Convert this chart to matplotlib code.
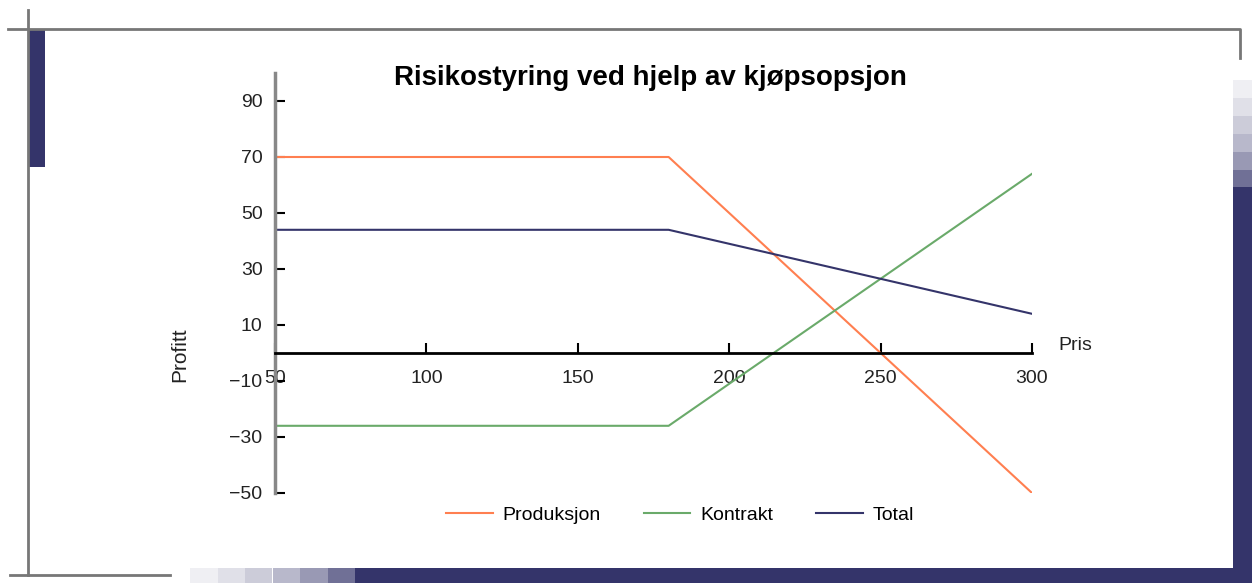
import matplotlib
matplotlib.use("Agg")
import matplotlib.pyplot as plt
from matplotlib.patches import Rectangle
from matplotlib.lines import Line2D

# price points where the payoff changes slope
pris = [50, 180, 300]
produksjon = [70, 70, -50]
kontrakt = [-26, -26, 64]
total = [44, 44, 14]

y_ticks = [-50, -30, -10, 10, 30, 50, 70, 90]
x_ticks = [50, 100, 150, 200, 250, 300]

W, H = 1252, 583
NAVY = "#34346a"
ORANGE = "#ff7f50"
GREEN = "#6aaa6a"
TXT = "#222222"

plt.rcParams["font.family"] = ["Liberation Sans", "DejaVu Sans"]

fig = plt.figure(figsize=(W / 100, H / 100), dpi=100)


def px(x, y):
    # pixel position (from top-left) to figure fraction
    return x / W, 1 - y / H


def rect(x0, y0, x1, y1, color, alpha=1.0):
    fx, fy = px(x0, y1)
    fig.patches.append(Rectangle((fx, fy), (x1 - x0) / W, (y1 - y0) / H,
                                 transform=fig.transFigure, color=color,
                                 alpha=alpha, lw=0, zorder=0))


def line(xs, ys, color="#777777", lw=2):
    fx = [x / W for x in xs]
    fy = [1 - y / H for y in ys]
    fig.lines.append(Line2D(fx, fy, transform=fig.transFigure, color=color, lw=lw))


# page frame and shadow bars
rect(1233, 187, W, H, NAVY)
rect(355, 568, W, H, NAVY)
rect(28, 30, 45, 167, NAVY)
for i, a in enumerate([0.08, 0.15, 0.25, 0.35, 0.5, 0.7]):
    rect(1233, 80 + i * 18, W, 98 + i * 18, NAVY, alpha=a)
    rect(190 + i * 27.5, 568, 217.5 + i * 27.5, H, NAVY, alpha=a)
line([8, 1240, 1240], [29, 29, 58])
line([28, 28], [10, 575])
line([10, 170], [575, 575])

x0, y0 = px(275, 493)
x1, y1 = px(1032, 73)
ax = fig.add_axes([x0, y0, x1 - x0, y1 - y0])

ax.plot(pris, produksjon, color=ORANGE, lw=1.5, label="Produksjon")
ax.plot(pris, kontrakt, color=GREEN, lw=1.5, label="Kontrakt")
ax.plot(pris, total, color=NAVY, lw=1.5, label="Total")

ax.set_xlim(50, 300)
ax.set_ylim(-50, 100)
ax.set_xticks(x_ticks)
ax.set_yticks(y_ticks)

for s in ("top", "right"):
    ax.spines[s].set_visible(False)
ax.spines["left"].set_color("#888888")
ax.spines["left"].set_linewidth(2.5)
ax.spines["bottom"].set_position(("data", 0))
ax.spines["bottom"].set_color("black")
ax.spines["bottom"].set_linewidth(2)

ax.tick_params(axis="y", direction="in", length=7, width=1.5, colors="black",
               labelcolor=TXT, labelsize=14, pad=9)
ax.tick_params(axis="x", direction="in", length=7, width=1.5, colors="black",
               labelcolor=TXT, labelsize=14, pad=12)
ax.set_facecolor("none")

fig.text(*px(650, 78), "Risikostyring ved hjelp av kjøpsopsjon", ha="center",
         va="center", fontsize=20, fontweight="bold")
fig.text(*px(180, 355), "Profitt", rotation=90, ha="center", va="center",
         fontsize=15, color=TXT)
fig.text(*px(1058, 345), "Pris", ha="left", va="center", fontsize=14,
         color=TXT)

fig.legend(loc="center", bbox_to_anchor=px(680, 515), ncol=3, frameon=False,
           fontsize=14, handlelength=2.4, columnspacing=2.2, handletextpad=0.5)

fig.savefig("out.png", dpi=100)
